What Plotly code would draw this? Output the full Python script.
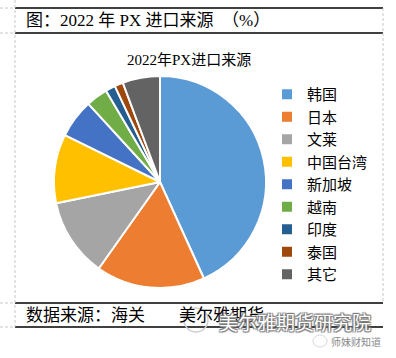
import plotly.graph_objects as go

W, H = 396, 358

categories = ["韩国", "日本", "文莱", "中国台湾", "新加坡", "越南", "印度", "泰国", "其它"]
shares = [43.2, 16.6, 12.0, 10.5, 5.9, 3.3, 1.5, 1.3, 5.7]
colors = ["#5B9BD5", "#ED7D31", "#A5A5A5", "#FFC000", "#4472C4",
          "#70AD47", "#255E91", "#9E480E", "#636363"]

SERIF = "Liberation Serif, Noto Sans CJK SC, serif"
SANS = "Noto Sans CJK SC, sans-serif"

def py(y):
    return 1 - y / H

def px(x):
    return x / W

fig = go.Figure()
fig.add_trace(go.Pie(
    labels=categories, values=shares, sort=False, direction="clockwise",
    rotation=0, textinfo="none", hoverinfo="label+percent",
    marker=dict(colors=colors, line=dict(color="white", width=2)),
    domain=dict(x=[px(54), px(266)], y=[py(288), py(76)]),
))

shapes = []
black = dict(color="black", width=1.5)
dash = dict(color="#C8C8C8", width=1, dash="3px,2px")
for y in (8, 33, 303, 327):
    shapes.append(dict(type="line", xref="paper", yref="paper",
                       x0=px(15), x1=px(383), y0=py(y), y1=py(y), line=black))
shapes.append(dict(type="line", xref="paper", yref="paper",
                   x0=px(15), x1=px(15), y0=py(0), y1=py(327), line=dash))
shapes.append(dict(type="line", xref="paper", yref="paper",
                   x0=px(383), x1=px(383), y0=py(8), y1=py(302), line=dash))
for y in (8, 33, 303, 327):
    shapes.append(dict(type="line", xref="paper", yref="paper",
                       x0=0, x1=px(15), y0=py(y), y1=py(y), line=dash))
# faint watermark icons
shapes.append(dict(type="circle", xref="paper", yref="paper",
                   x0=px(184), x1=px(208), y0=py(332), y1=py(308),
                   line=dict(color="#D0D0D0", width=1.5)))
shapes.append(dict(type="circle", xref="paper", yref="paper",
                   x0=px(313), x1=px(327), y0=py(347), y1=py(335),
                   line=dict(color="#D8D8D8", width=1)))

annotations = [
    dict(text="图：2022 年 PX 进口来源　（%）", x=px(24), y=py(21), xref="paper", yref="paper",
         xanchor="left", yanchor="middle", showarrow=False,
         font=dict(family=SERIF, size=17, color="black")),
    dict(text="2022年PX进口来源", x=px(189), y=py(60), xref="paper", yref="paper",
         xanchor="center", yanchor="middle", showarrow=False,
         font=dict(family=SERIF, size=15, color="black")),
    dict(text="数据来源：海关　　美尔雅期货", x=px(24), y=py(315), xref="paper", yref="paper",
         xanchor="left", yanchor="middle", showarrow=False,
         font=dict(family=SERIF, size=17, color="black")),
    dict(text="美尔雅期货研究院", x=px(373), y=py(321), xref="paper", yref="paper",
         xanchor="right", yanchor="middle", showarrow=False,
         font=dict(family=SANS, size=19, color="white",
                   shadow="1px 1px 1px #777, -1px -1px 1px #777, 1px -1px 1px #777, -1px 1px 1px #777")),
    dict(text="师妹财知道", x=px(383), y=py(341), xref="paper", yref="paper",
         xanchor="right", yanchor="middle", showarrow=False,
         font=dict(family=SANS, size=10, color="#888888")),
]

fig.update_layout(
    width=W, height=H, margin=dict(l=0, r=0, t=0, b=0),
    paper_bgcolor="white", plot_bgcolor="white",
    showlegend=True,
    legend=dict(x=px(267), y=py(78), xanchor="left", yanchor="top",
                font=dict(family=SANS, size=15, color="black"),
                itemwidth=30, tracegroupgap=0, bgcolor="rgba(0,0,0,0)"),
    shapes=shapes, annotations=annotations,
)

fig.write_html("out.html", config={"displayModeBar": False},
               post_script="document.body.style.margin='0';document.body.style.overflow='hidden';")
